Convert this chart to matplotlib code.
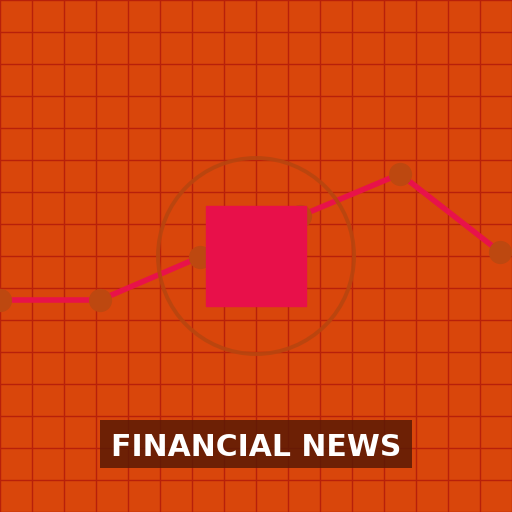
import matplotlib
matplotlib.use("Agg")
import matplotlib.pyplot as plt
from matplotlib.patches import Circle, Rectangle

# data (pixel-space values of the trend line)
x_vals = [0, 100, 200, 300, 400, 500]
y_vals = [300, 300, 257, 216, 174, 252]
title_text = "FINANCIAL NEWS"

bg = "#D9460B"
grid_c = "#B8200A"
line_c = "#E8124A"
marker_c = "#BD4810"

fig = plt.figure(figsize=(5.12, 5.12), dpi=100)
ax = fig.add_axes([0, 0, 1, 1])
ax.set_xlim(0, 512)
ax.set_ylim(512, 0)
ax.axis("off")
fig.patch.set_facecolor(bg)
ax.add_patch(Rectangle((0, 0), 512, 512, color=bg, zorder=0))

for g in range(0, 513, 32):
    ax.plot([g, g], [0, 512], color=grid_c, lw=1, zorder=1)
    ax.plot([0, 512], [g, g], color=grid_c, lw=1, zorder=1)

ax.plot(x_vals, y_vals, color=line_c, lw=4, zorder=2, solid_capstyle="butt")
ax.scatter(x_vals, y_vals, s=280, color=marker_c, zorder=3, linewidths=0)

ax.add_patch(Circle((256, 256), 98, fill=False, edgecolor="#B8450F", lw=2.8, alpha=0.9, zorder=4))
ax.add_patch(Rectangle((206, 206), 100, 100, color="#E8104A", zorder=5))

ax.add_patch(Rectangle((100, 420), 312, 48, color="#5A1A05", alpha=0.85, zorder=6, linewidth=0))
ax.text(256, 447.5, title_text, color="white", fontsize=21.5, fontweight="bold",
        ha="center", va="center", family="DejaVu Sans", zorder=7)

fig.savefig("out.png", dpi=100, facecolor=bg)
